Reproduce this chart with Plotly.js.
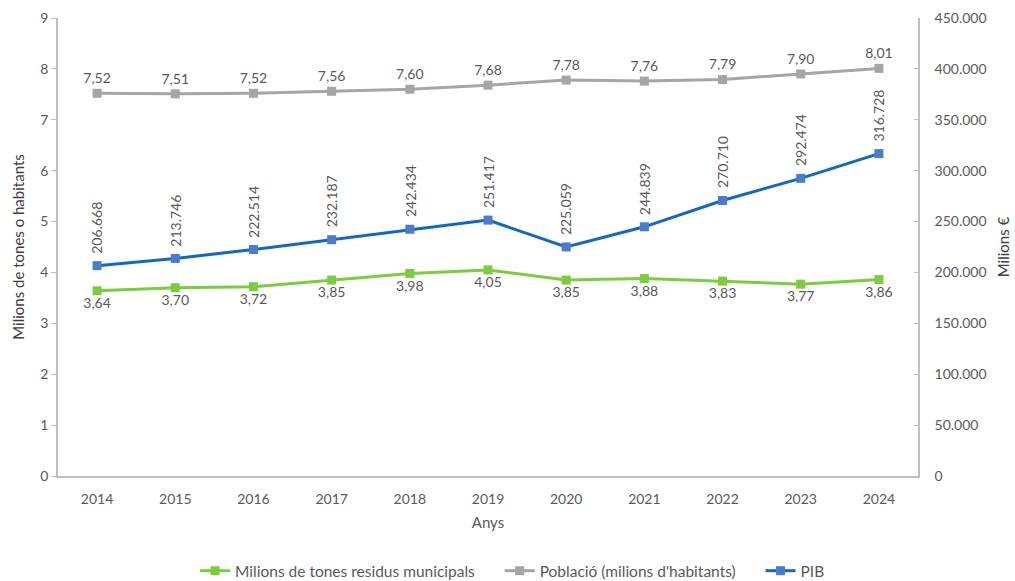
<!DOCTYPE html>
<html>
<head>
<meta charset="utf-8">
<script src="https://cdn.plot.ly/plotly-3.0.1.min.js"></script>
<style>body{margin:0;background:#fff}#chart{width:1015px;height:581px}</style>
</head>
<body>
<div id="chart"></div>
<script>
const years = ['2014','2015','2016','2017','2018','2019','2020','2021','2022','2023','2024'];
const residus = [3.64,3.70,3.72,3.85,3.98,4.05,3.85,3.88,3.83,3.77,3.86];
const poblacio = [7.52,7.51,7.52,7.56,7.60,7.68,7.78,7.76,7.79,7.90,8.01];
const pib = [206668,213746,222514,232187,242434,251417,225059,244839,270710,292474,316728];
const leftTicks = [0,1,2,3,4,5,6,7,8,9];
const rightTicks = [0,50000,100000,150000,200000,250000,300000,350000,400000,450000];
const seriesNames = ['Milions de tones residus municipals', 'Població (milions d\'habitants)', 'PIB'];

function fmtDec(v){ return v.toFixed(2).replace('.', ','); }
function fmtThou(v){ return Math.round(v).toString().replace(/\B(?=(\d{3})+(?!\d))/g, '.'); }
const pad = '\u00a0\u00a0\u00a0\u00a0\u00a0';

const font = 'Lato, "Open Sans", sans-serif';
const txtColor = '#595959';

const traces = [
  {x: years, y: residus, name: seriesNames[0] + pad, type: 'scatter', mode: 'lines+markers+text',
   line: {color: '#7dcc3f', width: 3}, marker: {symbol: 'square', size: 9, color: '#7dcc3f'},
   text: residus.map(fmtDec), textposition: 'bottom center', textfont: {size: 14, color: txtColor, family: font}, cliponaxis: false},
  {x: years, y: poblacio, name: seriesNames[1] + pad, type: 'scatter', mode: 'lines+markers+text',
   line: {color: '#a5a5a5', width: 3}, marker: {symbol: 'square', size: 9, color: '#a5a5a5'},
   text: poblacio.map(fmtDec), textposition: 'top center', textfont: {size: 14, color: txtColor, family: font}, cliponaxis: false},
  {x: years, y: pib, name: seriesNames[2], yaxis: 'y2', type: 'scatter', mode: 'lines+markers',
   line: {color: '#1068c2', width: 3}, marker: {symbol: 'square', size: 9, color: '#4a7cc9'}, cliponaxis: false}
];

const annotations = years.map((yr, i) => ({
  x: i, y: pib[i], xref: 'x', yref: 'y2', text: fmtThou(pib[i]), textangle: -90,
  showarrow: false, yanchor: 'bottom', xanchor: 'center', yshift: 10,
  font: {size: 14, color: txtColor, family: font}
}));

const layout = {
  width: 1015, height: 581,
  margin: {l: 58, r: 97, t: 18, b: 105},
  paper_bgcolor: '#fff', plot_bgcolor: '#fff',
  separators: ',.',
  font: {family: font, color: txtColor, size: 13},
  showlegend: true,
  legend: {orientation: 'h', xref: 'container', x: 0.505, xanchor: 'center', yref: 'container', y: 0.017, yanchor: 'middle',
           font: {size: 15.5, color: txtColor}, itemwidth: 30},
  xaxis: {type: 'category', range: [-0.5, 10.5], showline: true, linecolor: '#bfbfbf', linewidth: 1.5,
          showgrid: false, ticks: '', zeroline: false, tickfont: {size: 14, color: txtColor}, automargin: false,
          ticklabelstandoff: 9,
          title: {text: 'Anys', font: {size: 15, color: txtColor}, standoff: 12}},
  yaxis: {range: [0, 9], tickvals: leftTicks, ticktext: leftTicks.map(String), showline: true, linecolor: '#bfbfbf', linewidth: 1.5,
          showgrid: false, zeroline: false, ticks: 'outside', ticklen: 5, tickcolor: '#bfbfbf', automargin: false,
          tickfont: {size: 14, color: txtColor},
          title: {text: 'Milions de tones o habitants', font: {size: 15, color: '#404040'}, standoff: 12}},
  yaxis2: {range: [0, 450000], overlaying: 'y', side: 'right', tickvals: rightTicks, ticktext: rightTicks.map(fmtThou),
           showline: true, linecolor: '#bfbfbf', linewidth: 1.5, showgrid: false, zeroline: false, automargin: false,
           ticks: 'inside', ticklen: 4, tickcolor: '#bfbfbf', tickfont: {size: 14, color: txtColor}, ticklabelstandoff: 12,
           title: {text: 'Milions €', font: {size: 15, color: '#404040'}, standoff: 13}},
  annotations: annotations
};

Plotly.newPlot('chart', traces, layout, {displayModeBar: false, responsive: false});
</script>
</body>
</html>
